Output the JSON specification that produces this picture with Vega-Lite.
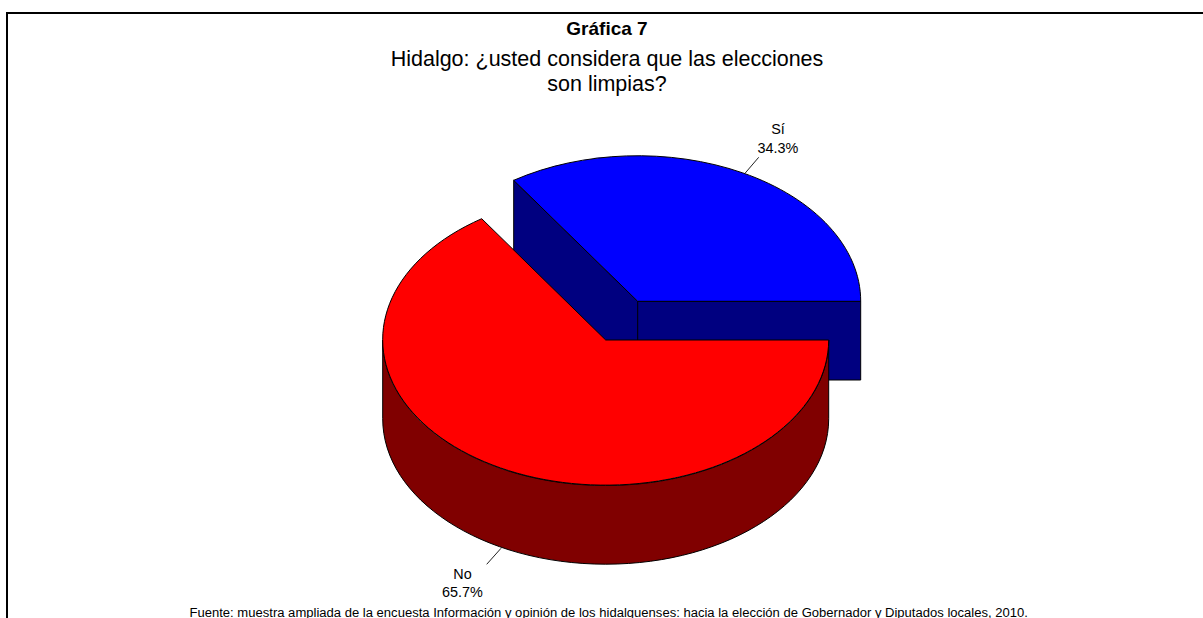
{
  "$schema": "https://vega.github.io/schema/vega-lite/v6.json",
  "width": 1200,
  "height": 640,
  "padding": {"left": 7, "top": 13, "right": 0, "bottom": 0},
  "autosize": {"type": "none"},
  "background": "white",
  "view": {"stroke": "black", "strokeWidth": 2, "fill": "white"},
  "title": {
    "text": "Gráfica 7",
    "subtitle": ["Hidalgo: ¿usted considera que las elecciones", "son limpias?"],
    "anchor": "middle",
    "frame": "group",
    "offset": -82,
    "font": "Liberation Sans",
    "fontSize": 19,
    "fontWeight": "bold",
    "color": "black",
    "subtitleFont": "Liberation Sans",
    "subtitleFontSize": 21.5,
    "subtitleColor": "black",
    "subtitleLineHeight": 24.5,
    "subtitlePadding": 10
  },
  "data": {"values": [
    {"answer": "Sí", "share": 0.343},
    {"answer": "No", "share": 0.657}
  ]},
  "resolve": {"scale": {"shape": "independent", "fill": "independent"}},
  "layer": [
    {
      "mark": {"type": "point", "filled": true, "opacity": 1, "size": 4, "stroke": "black", "strokeWidth": 1},
      "encoding": {
        "shape": {"field": "answer", "type": "nominal", "legend": null, "sort": null, "scale": {"domain": ["Sí", "No"], "range": [
          "M-93.3 -152.7 L30.7 -31.7 L253.7 -31.7 L253.7 47 L30.7 47 L-93.3 -74 Z M30.7 -31.7 L30.7 47",
          "M221.7 7 L221.7 85.7 A223 145.5 0 0 1 -224.3 85.7 L-224.3 7 A223 145.5 0 0 0 221.7 7 Z"
        ]}},
        "fill": {"field": "answer", "type": "nominal", "legend": null, "scale": {"domain": ["Sí", "No"], "range": ["#000080", "#800000"]}}
      }
    },
    {
      "mark": {"type": "point", "filled": true, "opacity": 1, "size": 4, "stroke": "black", "strokeWidth": 1},
      "encoding": {
        "shape": {"field": "answer", "type": "nominal", "legend": null, "sort": null, "scale": {"domain": ["Sí", "No"], "range": [
          "M30.7 -31.7 L-93.3 -152.7 A223 145.5 0 0 1 253.7 -31.7 Z",
          "M-1.3 7 L221.7 7 A223 145.5 0 1 1 -125.3 -114.3 Z"
        ]}},
        "fill": {"field": "answer", "type": "nominal", "legend": null, "scale": {"domain": ["Sí", "No"], "range": ["#0000FF", "#FF0000"]}}
      }
    },
    {
      "mark": {"type": "point", "filled": false, "opacity": 1, "size": 4, "stroke": "#222222", "strokeWidth": 1},
      "encoding": {
        "shape": {"field": "answer", "type": "nominal", "legend": null, "sort": null, "scale": {"domain": ["Sí", "No"], "range": [
          "M151.7 -175.7 L138 -159.7",
          "M-106 215.3 L-120.3 231.3"
        ]}}
      }
    },
    {
      "mark": {"type": "text", "font": "Liberation Sans", "fontSize": 14.4, "color": "black", "align": "center", "baseline": "alphabetic"},
      "encoding": {
        "x": {"field": "answer", "type": "nominal", "axis": null, "scale": {"type": "point", "domain": ["Sí", "No"], "range": [771, 455.5], "padding": 0}},
        "y": {"field": "answer", "type": "nominal", "axis": null, "scale": {"type": "point", "domain": ["Sí", "No"], "range": [121, 565.5], "padding": 0}},
        "text": {"field": "answer", "type": "nominal"}
      }
    },
    {
      "mark": {"type": "text", "font": "Liberation Sans", "fontSize": 14.4, "color": "black", "align": "center", "baseline": "alphabetic", "dy": 18.5},
      "encoding": {
        "x": {"field": "answer", "type": "nominal", "axis": null},
        "y": {"field": "answer", "type": "nominal", "axis": null},
        "text": {"field": "share", "type": "quantitative", "format": ".1%"}
      }
    },
    {
      "data": {"values": [{"note": "Fuente: muestra ampliada de la encuesta Información y opinión de los hidalguenses: hacia la elección de Gobernador y Diputados locales, 2010."}]},
      "mark": {"type": "text", "font": "Liberation Sans", "fontSize": 13.06, "color": "black", "align": "center", "baseline": "alphabetic", "dx": 1.7, "dy": 284},
      "encoding": {"text": {"field": "note", "type": "nominal"}}
    }
  ]
}
